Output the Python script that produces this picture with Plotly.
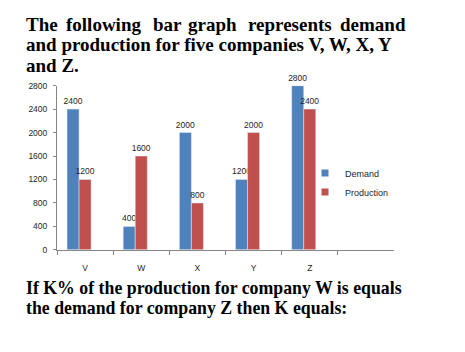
import plotly.graph_objects as go

categories = ["V", "W", "X", "Y", "Z"]
demand = [2400, 400, 2000, 1200, 2800]
production = [1200, 1600, 800, 2000, 2400]
y_ticks = [0, 400, 800, 1200, 1600, 2000, 2400, 2800]
series_names = ["Demand", "Production"]
series_colors = ["#4F81BD", "#C0504D"]

W, H = 465, 352
axis_col = "#868686"
sans = "Liberation Sans, Arial, sans-serif"
label_font = dict(family=sans, size=8.5, color="#262626")

fig = go.Figure()
for name, vals, col, off in zip(series_names, [demand, production], series_colors, [-18/56, -6/56]):
    fig.add_trace(go.Bar(
        name=name, x=categories, y=vals, marker_color=col,
        offset=off, width=12/56, showlegend=False,
        text=vals, texttemplate="%{text}", textposition="outside",
        textfont=label_font, cliponaxis=False, constraintext="none",
    ))
# legend entries with small square keys
for name, col in zip(series_names, series_colors):
    fig.add_trace(go.Scatter(
        x=[None], y=[None], mode="markers", name=name,
        marker=dict(symbol="square", size=7, color=col),
    ))

fig.update_layout(
    width=W, height=H,
    margin=dict(l=0, r=0, t=0, b=0),
    paper_bgcolor="white", plot_bgcolor="white",
    barmode="group",
    xaxis=dict(
        type="category", categoryorder="array", categoryarray=categories,
        range=[-0.5, 5.5], domain=[57/W, 394/W],
        tickson="boundaries", ticks="outside", ticklen=4, tickcolor=axis_col,
        showline=True, linecolor=axis_col, linewidth=1, showgrid=False,
        tickfont=label_font, zeroline=False, ticklabelstandoff=10,
    ),
    yaxis=dict(
        range=[0, 2800], tickvals=y_ticks, domain=[1-252/H, 1-83/H],
        ticks="outside", ticklen=3, tickcolor=axis_col,
        showline=True, linecolor=axis_col, linewidth=1, showgrid=False,
        tickfont=label_font, zeroline=False, ticklabelstandoff=4,
    ),
    legend=dict(
        x=305/W, y=1-158/H, xanchor="left", yanchor="top",
        font=dict(family=sans, size=9, color="#262626"),
        bgcolor="rgba(0,0,0,0)", itemwidth=30,
    ),
    showlegend=True,
)

serif = "Liberation Serif, Times New Roman, serif"
title_font = dict(family=serif, size=19, color="black")
bottom_font = dict(family=serif, size=17.8, color="black")

# first title line is justified in the original: place word by word
line1_words = ["The", "following", "bar", "graph", "represents", "demand"]
line1_x = [25, 65, 152, 187, 247, 339]
for wtxt, wx in zip(line1_words, line1_x):
    fig.add_annotation(text="<b>" + wtxt + "</b>", xref="paper", yref="paper",
                       x=(wx - 1)/W, y=1-20/H, xanchor="left", yanchor="middle",
                       showarrow=False, font=title_font)
top_lines = [
    "<b>and production for five companies V, W, X, Y</b>",
    "<b>and Z.</b>",
]
for i, t in enumerate(top_lines):
    fig.add_annotation(text=t, xref="paper", yref="paper", x=24/W, y=1-(41+21*i)/H,
                       xanchor="left", yanchor="middle", showarrow=False, font=title_font)

bottom_lines = [
    "<b>If K% of the production for company W is equals</b>",
    "<b>the demand for company Z then K equals:</b>",
]
for i, t in enumerate(bottom_lines):
    fig.add_annotation(text=t, xref="paper", yref="paper", x=24/W, y=1-(291+21*i)/H,
                       xanchor="left", yanchor="middle", showarrow=False, font=bottom_font)

fig.write_html("out.html")
